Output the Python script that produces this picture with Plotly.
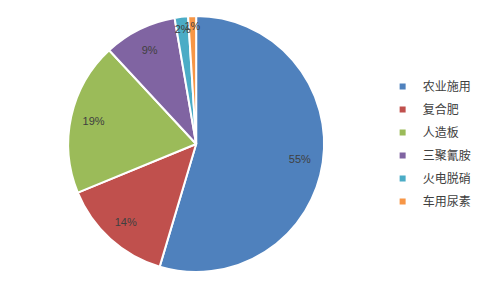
import plotly.graph_objects as go

categories = ["农业施用", "复合肥", "人造板", "三聚氰胺", "火电脱硝", "车用尿素"]
values = [54.6, 14.2, 19.3, 9.2, 1.7, 1.0]
colors = ["#4F81BD", "#C0504D", "#9BBB59", "#8064A2", "#4BACC6", "#F79646"]

label_font = dict(family="Liberation Sans, Arial", size=11, color="#404040")
dom_x = [0.148, 0.703]
clear = ["rgba(0,0,0,0)"] * len(values)

fig = go.Figure()
# main coloured pie
fig.add_trace(go.Pie(
    labels=categories, values=values, sort=False, direction="clockwise", rotation=0,
    marker=dict(colors=colors, line=dict(color="white", width=2)),
    textinfo="none", domain=dict(x=dom_x, y=[0, 1]),
    hoverinfo="label+percent", showlegend=False,
))
# transparent overlay ring: places the large-slice labels toward the rim
fig.add_trace(go.Pie(
    labels=categories, values=values, sort=False, direction="clockwise", rotation=0,
    hole=0.64, marker=dict(colors=clear, line=dict(width=0)),
    texttemplate="%{percent:.0%}",
    textposition=["inside", "inside", "inside", "inside", "none", "none"],
    insidetextorientation="horizontal", textfont=label_font,
    domain=dict(x=dom_x, y=[0, 1]), showlegend=False, hoverinfo="skip",
))
# slightly smaller transparent pie: labels of the thin slices
fig.add_trace(go.Pie(
    labels=categories, values=values, sort=False, direction="clockwise", rotation=0,
    hole=0.6, marker=dict(colors=clear, line=dict(width=0)),
    texttemplate="%{percent:.0%}",
    textposition=["none", "none", "none", "none", "inside", "inside"],
    insidetextorientation="horizontal", textfont=label_font,
    domain=dict(x=dom_x, y=[0.045, 0.955]), showlegend=False, hoverinfo="skip",
))
# legend entries with small square markers
for name, col in zip(categories, colors):
    fig.add_trace(go.Scatter(
        x=[None], y=[None], mode="markers", name=name, legendgroup=name,
        marker=dict(symbol="square", size=6, color=col),
    ))

fig.update_layout(
    width=477, height=288,
    margin=dict(l=0, r=0, t=10, b=10),
    paper_bgcolor="white",
    plot_bgcolor="white",
    showlegend=True,
    uniformtext=dict(minsize=11, mode="show"),
    xaxis=dict(visible=False),
    yaxis=dict(visible=False),
    legend=dict(
        x=0.83, y=0.5, xanchor="left", yanchor="middle",
        font=dict(family="Noto Sans CJK SC", size=12, color="#404040"),
        tracegroupgap=4, itemwidth=30,
        bgcolor="rgba(0,0,0,0)",
    ),
)

fig.write_html("out.html")
